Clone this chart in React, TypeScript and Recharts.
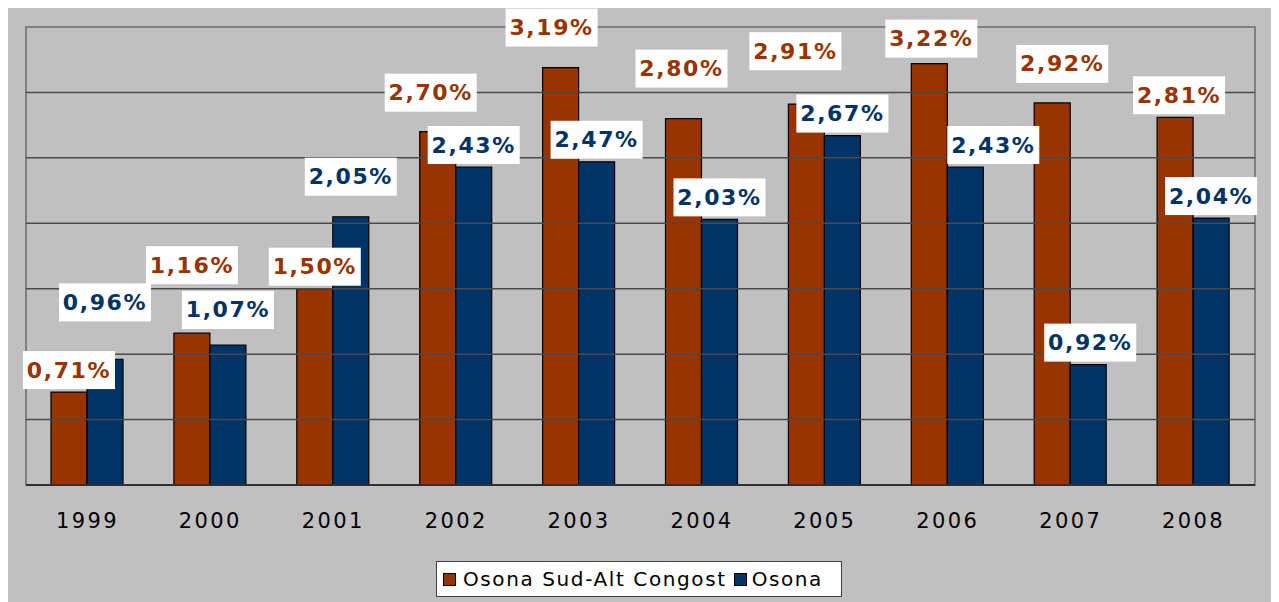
import { BarChart, Bar, XAxis, YAxis, Legend, LabelList, ReferenceLine, ReferenceArea } from 'recharts';

const years = ['1999', '2000', '2001', '2002', '2003', '2004', '2005', '2006', '2007', '2008'];
const sudAltCongost = [0.71, 1.16, 1.5, 2.7, 3.19, 2.8, 2.91, 3.22, 2.92, 2.81];
const osona = [0.96, 1.07, 2.05, 2.43, 2.47, 2.03, 2.67, 2.43, 0.92, 2.04];
const yTicks = [0, 0.5, 1, 1.5, 2, 2.5, 3, 3.5];

// hand-placed label nudges (as in the original spreadsheet chart)
const orangeShiftX = [0, 0, 0, -7, -9, -2, -11, 2, 10, 4];
const orangeLift = [0, 46, 0, 17, 18, 28, 31, 3, 17, 0];
const blueShiftX = [0, 0, 0, 0, 0, 0, 0, 28, 2, 0];
const blueLift = [35, 13, 18, 0, 0, 0, 0, 0, 0, 0];

const ORANGE = '#993300';
const BLUE = '#003366';
const FONT = '"DejaVu Sans", Verdana, sans-serif';

const data = years.map((y, i) => ({ year: y, sud: sudAltCongost[i], osona: osona[i] }));

const fmt = (v: number) => v.toFixed(2).replace('.', ',') + '%';

function makeLabel(color: string, shiftX: number[], lift: number[]) {
  return (p: any) => {
    const i = p.index;
    const cx = Number(p.x) + Number(p.width) / 2 + shiftX[i];
    const cy = Number(p.y) - 22 - lift[i];
    return (
      <g>
        <rect x={cx - 46} y={cy - 19} width={92} height={38} fill="#fff" />
        <text x={cx} y={cy} textAnchor="middle" dominantBaseline="central" fill={color}
          fontFamily={FONT} fontWeight="bold" fontSize={22} letterSpacing={1.6}>
          {fmt(Number(p.value))}
        </text>
      </g>
    );
  };
}

const legendContent = () => (
  <div style={{ display: 'flex', alignItems: 'center', height: 34, width: 404, background: '#fff', border: '1px solid #404040', fontFamily: FONT, fontSize: 20, color: '#000', letterSpacing: 1.6 }}>
    <span style={{ display: 'inline-block', width: 11, height: 11, background: ORANGE, border: '1px solid #000', marginLeft: 6, marginRight: 7 }} />
    <span>Osona Sud-Alt Congost</span>
    <span style={{ display: 'inline-block', width: 11, height: 11, background: BLUE, border: '1px solid #000', marginLeft: 7, marginRight: 5 }} />
    <span>Osona</span>
  </div>
);

export default function App() {
  return (
    <div style={{ marginLeft: -2, marginTop: -1, width: 1270, height: 595, background: '#c0c0c0', fontFamily: FONT }}>
      <BarChart width={1270} height={595} data={data} barSize={36} barGap={0}
        margin={{ top: 20, right: 21, bottom: 21, left: 20 }}>
        <XAxis dataKey="year" height={60} tickSize={0} tickMargin={28} axisLine={false}
          tick={{ fill: '#000', fontSize: 21, fontFamily: FONT, letterSpacing: 2.4 }} />
        <YAxis domain={[0, 3.5]} ticks={yTicks} hide />
        <ReferenceArea y1={0} y2={3.5} fill="none" stroke="#808080" strokeWidth={2} ifOverflow="visible" />
        {yTicks.slice(0, -1).map((t) => (
          <ReferenceLine key={t} y={t} stroke={t === 0 ? '#303030' : '#4a4a4a'} strokeWidth={t === 0 ? 2 : 1.5} />
        ))}
        <Bar dataKey="sud" fill={ORANGE} stroke="#000" strokeWidth={1.2} isAnimationActive={false}>
          <LabelList dataKey="sud" content={makeLabel(ORANGE, orangeShiftX, orangeLift)} />
        </Bar>
        <Bar dataKey="osona" fill={BLUE} stroke="#000" strokeWidth={1.2} isAnimationActive={false}>
          <LabelList dataKey="osona" content={makeLabel(BLUE, blueShiftX, blueLift)} />
        </Bar>
        <Legend content={legendContent} wrapperStyle={{ left: 430, top: 554, width: 406, height: 36 }} />
      </BarChart>
    </div>
  );
}
